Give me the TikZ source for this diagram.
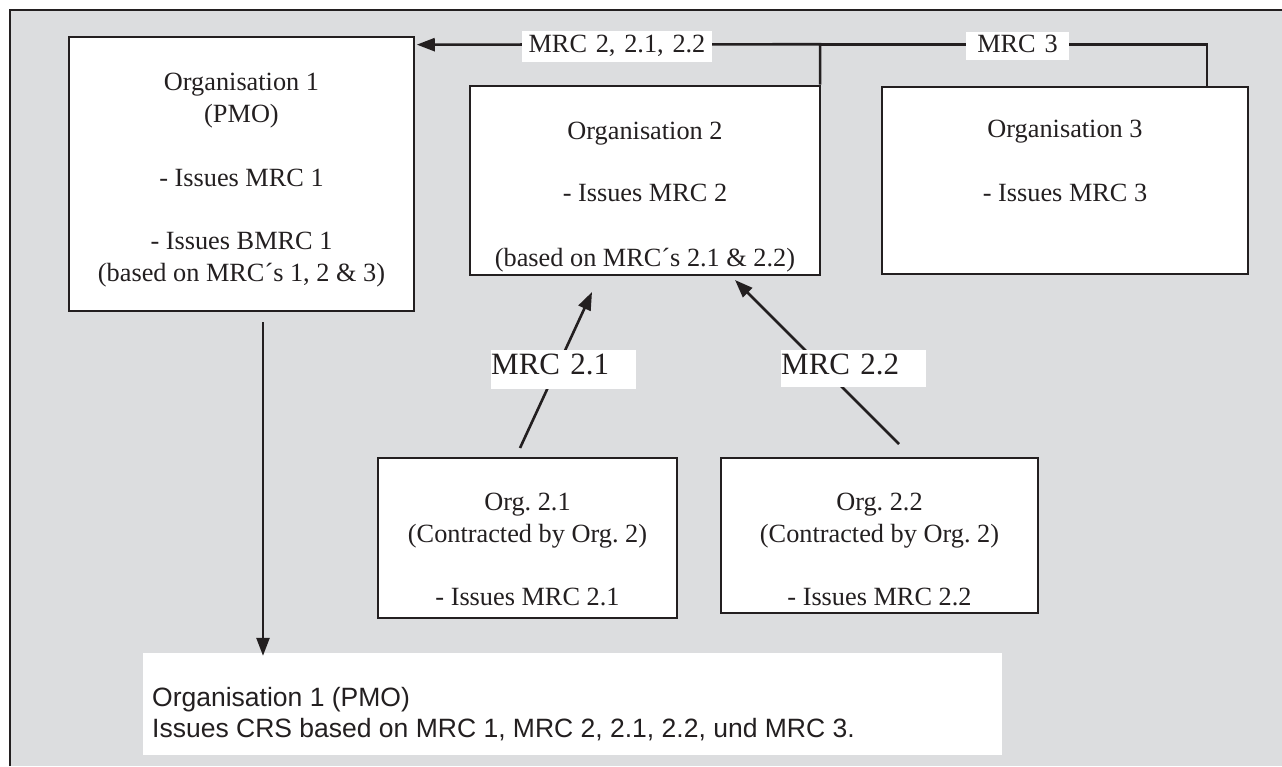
\documentclass[tikz,border=0pt]{standalone}
\usepackage{fontspec}
\setmainfont{Liberation Serif}
\newfontfamily\sansf{Liberation Sans}
\usetikzlibrary{arrows.meta,calc}
\definecolor{bg}{HTML}{DCDDDF}
\definecolor{ink}{HTML}{231F20}
\frenchspacing
\tikzset{
  orgbox/.style={draw=ink, line width=2.7pt, fill=white, inner sep=0pt},
  orgtext/.style={inner sep=0pt, align=center, anchor=north, text=ink,
    font=\frenchspacing\fontsize{26.3}{32}\selectfont},
  conn/.style={draw=ink, line width=2.6pt},
  arr/.style={conn, -{Triangle[length=18pt,width=13pt]}},
  toplabel/.style={fill=white, inner sep=0pt, align=center, text=ink,
    font=\frenchspacing\fontsize{26.3}{32}\selectfont},
  midlabel/.style={fill=white, inner sep=0pt, align=left, text=ink,
    font=\frenchspacing\fontsize{31}{36}\selectfont}
}
\begin{document}
\begin{tikzpicture}[x=1pt,y=-1pt]
\useasboundingbox (0,0) rectangle (1282,766);
% frame
\fill[bg] (10,10) rectangle (1282,766);
\draw[ink, line width=2.7pt] (10,766) -- (10,10) -- (1282,10);

% boxes
\node[orgbox, minimum width=345pt, minimum height=274pt] (o1) at (241.5,174) {};
\node[orgbox, minimum width=350pt, minimum height=189pt] (o2) at (645,180.5) {};
\node[orgbox, minimum width=366pt, minimum height=187pt] (o3) at (1065,180.5) {};
\node[orgbox, minimum width=299pt, minimum height=160pt] (o21) at (527.5,538) {};
\node[orgbox, minimum width=317pt, minimum height=155pt] (o22) at (879.5,535.5) {};
\node[fill=white, inner sep=0pt, minimum width=859pt, minimum height=102pt] (bot) at (572.5,704) {};

% box texts
\node[orgtext] (t1) at (241.5,73.3) {Organisation 1\\(PMO)\\[32pt]- Issues MRC 1\\[31pt]- Issues BMRC 1\\(based on MRC´s 1, 2 \& 3)};
\node[orgtext] (t2) at (645,122.3) {Organisation 2\\[30pt]- Issues MRC 2\\[33pt](based on MRC´s 2.1 \& 2.2)};
\node[orgtext] (t3) at (1065,120.3) {Organisation 3\\[32pt]- Issues MRC 3};
\node[orgtext] (t21) at (527.5,493.3) {Org. 2.1\\(Contracted by Org. 2)\\[31pt]- Issues MRC 2.1};
\node[orgtext] (t22) at (879.5,493.3) {Org. 2.2\\(Contracted by Org. 2)\\[31pt]- Issues MRC 2.2};
\node[inner sep=0pt, align=left, anchor=north west, text=ink,
  font=\sansf\frenchspacing\fontsize{26.5}{31}\selectfont] (tb) at (152,687)
  {Organisation 1 (PMO)\\Issues CRS based on MRC 1, MRC 2, 2.1, 2.2, und MRC 3.};

% connectors
\coordinate (j) at ($(o2.north east)+(-1.3,-40.4)$);
\coordinate (o3up) at (1207,86);
\draw[arr] (o2.north east) ++(-1.3,0) -- (j) -- ($(o1.north east)+(1.4,9)$);
\draw[conn] (o3up) |- (j);

\coordinate (a21s) at (520,448);
\coordinate (a21e) at (592,292);
\draw[arr] (a21s) -- (a21e);
\coordinate (a22s) at (899,444);
\coordinate (a22e) at (735,280);
\draw[arr] (a22s) -- (a22e);

\coordinate (d1) at (263,322);
\draw[arr] (d1) -- ($(d1 |- bot.north)+(0,3)$);

% labels
\node[toplabel, text width=190pt, text height=21pt, text depth=10pt] (l1) at (617,46.5) {MRC 2, 2.1, 2.2};
\node[toplabel, text width=103pt, text height=20pt, text depth=8pt] (l2) at (1017.5,46) {MRC 3};
\node[midlabel, text width=145pt, text height=24pt, text depth=15pt, anchor=north west] (l21) at (491,350) {MRC 2.1};
\node[midlabel, text width=145pt, text height=24pt, text depth=13pt, anchor=north west] (l22) at (781,350) {MRC 2.2};
\end{tikzpicture}
\end{document}
